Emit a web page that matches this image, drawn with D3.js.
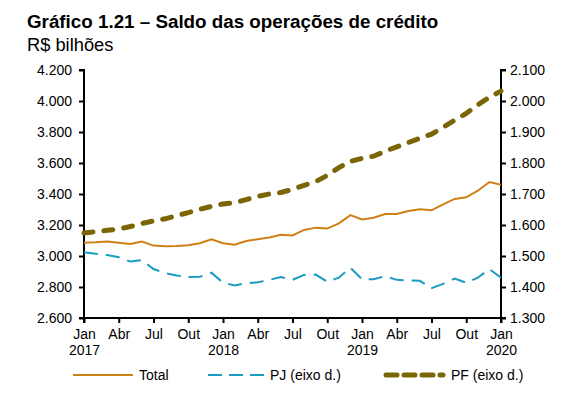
<html>
<head>
<meta charset="utf-8">
<style>
    body { margin: 0; background: #fff; }
    text { font-family: "Liberation Sans", Arial, sans-serif; }
</style>
<script src="https://cdnjs.cloudflare.com/ajax/libs/d3/7.8.5/d3.min.js"></script>
</head>
<body>
<script>
// Jan 2017 .. Jan 2020, monthly
const tickMonths = d3.range(0, 37, 3);
const tickNames = ['Jan', 'Abr', 'Jul', 'Out'];
const tickYears = ['2017', '2018', '2019', '2020'];

// R$ bilhões
const total = [3086, 3088, 3093, 3085, 3078, 3093, 3067, 3063, 3065, 3070, 3082, 3108,
               3082, 3073, 3097, 3108, 3120, 3137, 3133, 3168, 3183, 3177, 3211, 3264,
               3236, 3247, 3271, 3271, 3290, 3301, 3295, 3333, 3368, 3379, 3421, 3477, 3460];
const pj = [1512, 1507, 1503, 1496, 1482, 1487, 1458, 1445, 1437, 1432, 1433, 1446,
            1414, 1405, 1412, 1415, 1423, 1432, 1423, 1439, 1440, 1417, 1430, 1462,
            1425, 1425, 1435, 1423, 1421, 1420, 1396, 1410, 1427, 1414, 1430, 1458, 1430];
const pf = [1574, 1578, 1583, 1587, 1595, 1605, 1613, 1620, 1630, 1640, 1651, 1660,
            1668, 1672, 1682, 1692, 1700, 1705, 1715, 1728, 1740, 1760, 1785, 1805,
            1815, 1822, 1838, 1852, 1866, 1880, 1893, 1915, 1938, 1960, 1988, 2012, 2032];

const leftTicks = d3.range(2600, 4201, 200);
const rightTicks = d3.range(1300, 2101, 100);

const seriesNames = ['Total', 'PJ (eixo d.)', 'PF (eixo d.)'];
const colors = ['#cf8015', '#1a9cc0', '#7a6605'];

const width = 577, height = 397;
const plot = { left: 84, right: 501, top: 70, bottom: 318 };

const fmt = v => d3.format(',.3f')(v / 1000).replace(',', '.');

const svg = d3.select('body').append('svg')
    .attr('width', width)
    .attr('height', height);

svg.append('text')
    .attr('x', 27).attr('y', 28)
    .attr('font-size', 18.8).attr('font-weight', 'bold')
    .text('Gráfico 1.21 – Saldo das operações de crédito');
svg.append('text')
    .attr('x', 27).attr('y', 51)
    .attr('font-size', 18.3)
    .text('R$ bilhões');

const x = d3.scaleLinear().domain([0, 36]).range([plot.left, plot.right]);
const yL = d3.scaleLinear().domain([2600, 4200]).range([plot.bottom, plot.top]);
const yR = d3.scaleLinear().domain([1300, 2100]).range([plot.bottom, plot.top]);

// axes
const axL = svg.append('g')
    .attr('transform', `translate(${plot.left},0)`)
    .call(d3.axisLeft(yL).tickValues(leftTicks).tickSize(5).tickPadding(7).tickFormat(fmt));

const axR = svg.append('g')
    .attr('transform', `translate(${plot.right},0)`)
    .call(d3.axisRight(yR).tickValues(rightTicks).tickSize(5).tickPadding(4).tickFormat(fmt));

const axB = svg.append('g')
    .attr('transform', `translate(0,${plot.bottom})`)
    .call(d3.axisBottom(x).tickValues(tickMonths).tickSize(5).tickPadding(5).tickFormat(''));

axB.selectAll('.tick').each(function (d) {
    const t = d3.select(this).select('text');
    t.append('tspan').attr('x', 0).attr('dy', '0.75em').text(tickNames[(d / 3) % 4]);
    if (d % 12 === 0) {
        t.append('tspan').attr('x', 0).attr('dy', '1.2em').text(tickYears[d / 12]);
    }
});

[axL, axR, axB].forEach(a => {
    a.selectAll('.domain').attr('stroke', '#000').attr('stroke-width', 2);
    a.selectAll('.tick line').attr('stroke', '#000').attr('stroke-width', 2);
    a.selectAll('text').attr('font-size', 14).attr('fill', '#000')
        .attr('font-family', '"Liberation Sans", Arial, sans-serif');
});
axL.select('.domain').attr('d', `M-5,${plot.top}H0V${plot.bottom}H-5`);
axR.select('.domain').attr('d', `M5,${plot.top}H0V${plot.bottom}H5`);
axB.select('.domain').attr('d', `M${plot.left},5V0H${plot.right}V5`);

// lines
const lineL = d3.line().x((d, i) => x(i)).y(d => yL(d));
const lineR = d3.line().x((d, i) => x(i)).y(d => yR(d));

svg.append('path').datum(pf)
    .attr('d', lineR)
    .attr('fill', 'none').attr('stroke', colors[2])
    .attr('stroke-width', 5).attr('stroke-linecap', 'round')
    .attr('stroke-dasharray', '9,11');

svg.append('path').datum(pj)
    .attr('d', lineR)
    .attr('fill', 'none').attr('stroke', colors[1])
    .attr('stroke-width', 2).attr('stroke-dasharray', '14,8');

svg.append('path').datum(total)
    .attr('d', lineL)
    .attr('fill', 'none').attr('stroke', colors[0])
    .attr('stroke-width', 2);

// legend
const legLine = [[73, 133], [208, 264], [386, 443]];
const legText = [139, 270, 451];
const leg = svg.append('g');
seriesNames.forEach((name, i) => {
    const l = leg.append('line')
        .attr('x1', legLine[i][0]).attr('x2', legLine[i][1])
        .attr('y1', 375).attr('y2', 375)
        .attr('stroke', colors[i]);
    if (i === 0) l.attr('stroke-width', 2);
    if (i === 1) l.attr('stroke-width', 2).attr('stroke-dasharray', '14,7');
    if (i === 2) l.attr('stroke-width', 5).attr('stroke-linecap', 'round').attr('stroke-dasharray', '11,7');
    leg.append('text')
        .attr('x', legText[i]).attr('y', 380)
        .attr('font-size', 14)
        .text(name);
});
</script>
</body>
</html>
